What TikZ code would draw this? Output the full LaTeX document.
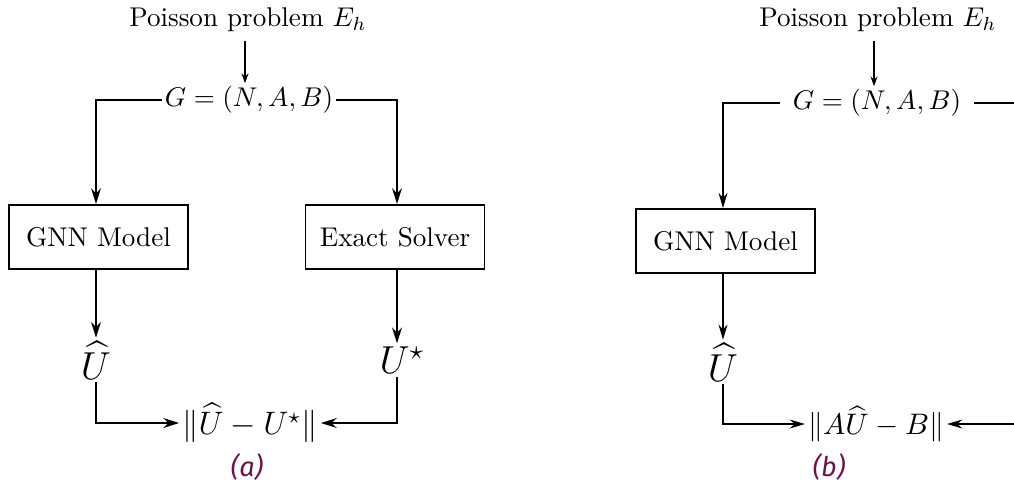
\documentclass[tikz,border=0pt]{standalone}
\usepackage{amsmath,amssymb}
\usepackage{fontspec}
\newfontfamily\capfont{Fira Sans}
\usetikzlibrary{arrows.meta}
\definecolor{capcol}{RGB}{105,20,75}
\begin{document}
\begin{tikzpicture}[x=0.369pt,y=-0.369pt,
  flow/.style={line width=0.85pt,-{Stealth[length=5.8pt,width=3.6pt]}},
  flowb/.style={line width=0.65pt,-{Stealth[length=5.6pt,width=3.3pt]}},
  wireb/.style={line width=0.65pt},
  feed/.style={line width=0.45pt,-{Stealth[length=3.6pt,width=2.6pt]}},
  block/.style={draw,line width=0.7pt,minimum width=179*0.369pt,minimum height=64*0.369pt,inner sep=0pt},
  lbl/.style={inner sep=1pt},
  sol/.style={inner sep=1pt,font=\Large},
  subcap/.style={text=capcol,font=\capfont\itshape}]
\useasboundingbox (0,0) rectangle (1014,485);

% ---- panel (a): supervised loss against the exact solution
\node[lbl] (pa) at (248,20) {Poisson problem $E_h$};
\node[lbl] (ga) at (249,100) {$G=(N,A,B)$};
\node[block] (gnna) at (98.5,237) {GNN Model};
\node[block] (exact) at (395,237) {Exact Solver};
\node[sol] (uhata) at (96,360) {$\widehat{U}$};
\node[sol] (ustar) at (402,360) {$U^\star$};
\node[lbl,font=\large] (norma) at (250,423) {$\|\widehat{U}-U^\star\|$};
\node[subcap] (capa) at (247,467) {(a)};

\draw[feed,shorten <=2pt] (pa.south -| 245,0) -- (ga.north -| 245,0);
\draw[flow] (ga.west) -- (96,100) -- (gnna.north -| 96,0);
\draw[flow] (ga.east) -- (397,100) -- (exact.north -| 397,0);
\draw[flow] (gnna.south -| 96,0) -- (uhata.north -| 96,0);
\draw[flow] (exact.south -| 397,0) -- (ustar.north -| 397,0);
\draw[flow] (uhata.south -| 96,0) -- (96,423) -- (norma.west);
\draw[flow] (ustar.south -| 397,0) -- (397,423) -- (norma.east);

% ---- panel (b): residual loss, no exact solver needed
\node[lbl] (pb) at (878,20) {Poisson problem $E_h$};
\node[lbl] (gb) at (877,103) {$G=(N,A,B)$};
\node[block] (gnnb) at (725.5,241) {GNN Model};
\node[sol] (uhatb) at (723,362) {$\widehat{U}$};
\node[lbl,font=\fontsize{10.8}{13}\selectfont] (normb) at (876,424) {$\|A\widehat{U}-B\|$};
\node[subcap] (capb) at (829,467) {(b)};
\coordinate (rb) at (1014,424);
\coordinate (rt) at (1014,103);

\draw[feed,shorten <=2pt] (pb.south -| 874,0) -- (gb.north -| 874,0);
\draw[flowb] ([xshift=-10*0.369pt]gb.west) -- (723,103) -- (gnnb.north -| 723,0);
\draw[wireb] ([xshift=10*0.369pt]gb.east) -- (rt);
\draw[flowb] (gnnb.south -| 723,0) -- (uhatb.north -| 723,0);
\draw[flowb] (uhatb.south -| 723,0) -- (723,424) -- (normb.west);
\draw[flowb] (rb) -- (normb.east);
\end{tikzpicture}
\end{document}
